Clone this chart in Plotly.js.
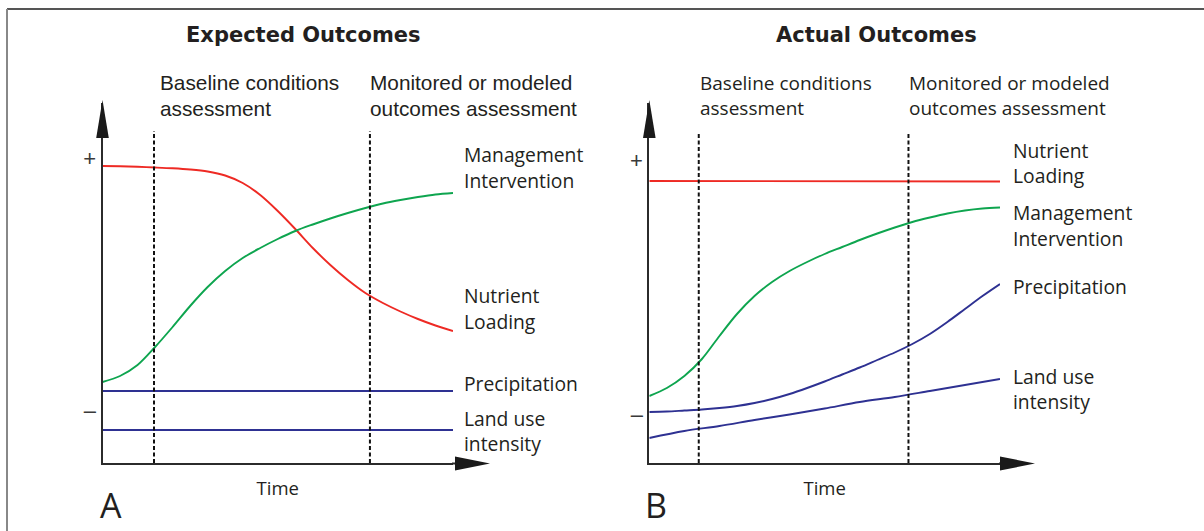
<!DOCTYPE html>
<html><head><meta charset="utf-8">
<script src="https://cdn.plot.ly/plotly-3.0.1.min.js"></script>
<style>html,body{margin:0;padding:0;background:#fff;}#chart{width:1204px;height:531px;}</style>
</head><body><div id="chart"></div>
<script>
// ---------------- data ----------------
const timeGrid = [0,0.5,1,1.5,2,2.5,3,3.5,4,4.5,5,5.5,6,6.5,7,7.5,8,8.5,9,9.5,10];
const timeEnds = [0,10];
const timeInt  = [0,1,2,3,4,5,6,7,8,9,10];

// Panel A: Expected outcomes
const nutrientA   = [29.7,29.67,29.62,29.55,29.47,29.35,29.15,28.75,28.0,26.8,25.2,23.4,21.5,19.8,18.3,17.0,16.0,15.15,14.4,13.75,13.2];
const managementA = [8.1,8.7,9.8,11.6,13.6,15.7,17.6,19.2,20.5,21.5,22.4,23.2,23.85,24.45,25.0,25.5,25.95,26.3,26.6,26.85,27.0];
const precipA     = [7.2,7.2];
const landUseA    = [3.3,3.3];
const assessTimesA = [1.47,7.63];

// Panel B: Actual outcomes
const nutrientB   = [28.2,28.15];
const managementB = [6.7,7.5,8.7,10.4,12.7,14.9,16.7,18.1,19.2,20.1,20.9,21.6,22.3,22.95,23.55,24.1,24.55,24.95,25.25,25.45,25.55];
const precipB     = [5.1,5.15,5.25,5.35,5.5,5.7,6.0,6.4,6.9,7.5,8.15,8.85,9.55,10.3,11.05,11.9,12.9,14.1,15.4,16.7,17.9];
const landUseB    = [2.5,3.2,3.7,4.3,4.85,5.45,6.1,6.6,7.2,7.8,8.4];
const assessTimesB = [1.41,7.39];

// tick labels
const yTickTextAB = ['+','\u2013'];
const yTickValsA = [30.5,5.3];
const yTickValsB = [30.3,4.9];
const assessLabel = ['Baseline conditions','assessment'];
const outcomeLabel = ['Monitored or modeled','outcomes assessment'];
const panelTitles = ['Expected Outcomes','Actual Outcomes'];
const panelLetters = ['A','B'];

// ---------------- styling ----------------
const W = 1204, H = 531;
const px = x => x / W;
const py = y => 1 - y / H;
const RED = '#ee2a24', GREEN = '#0ea54f', BLUE = '#2e3192', INK = '#231f20', AX = '#2b2b2b';
const MYR = 'Open Sans, Noto Sans, sans-serif';
const ARI = 'Liberation Sans, Arial, sans-serif';

function line(x, y, color, xa, ya) {
  return {type:'scatter', mode:'lines', x:x, y:y, xaxis:xa, yaxis:ya,
          line:{color:color, width:1.9, shape:'spline', smoothing:0.9}, hoverinfo:'skip', showlegend:false};
}

const traces = [
  line(timeGrid, nutrientA, RED, 'x', 'y'),
  line(timeGrid, managementA, GREEN, 'x', 'y'),
  line(timeEnds, precipA, BLUE, 'x', 'y'),
  line(timeEnds, landUseA, BLUE, 'x', 'y'),
  line(timeEnds, nutrientB, RED, 'x2', 'y2'),
  line(timeGrid, managementB, GREEN, 'x2', 'y2'),
  line(timeGrid, precipB, BLUE, 'x2', 'y2'),
  line(timeInt, landUseB, BLUE, 'x2', 'y2')
];

function xax(d0, d1, anchor) {
  return {domain:[px(d0), px(d1)], range:[0,10], anchor:anchor, showline:true, linecolor:AX, linewidth:2,
          showgrid:false, zeroline:false, showticklabels:false, ticks:'', fixedrange:true,
          title:{text:'Time', standoff:18, font:{family:MYR, size:18.5, color:INK}}};
}
function yax(vals, anchor) {
  return {domain:[py(463), py(103)], range:[0,36], anchor:anchor, showline:true, linecolor:AX, linewidth:2,
          showgrid:false, zeroline:false, tickvals:vals, ticktext:yTickTextAB, ticks:'',
          tickfont:{family:ARI, size:22, color:'#3a3a3a'}, fixedrange:true};
}

const shapes = [];
// border
shapes.push({type:'line', xref:'paper', yref:'paper', x0:px(7), y0:py(9), x1:1, y1:py(9), line:{color:'#555', width:2}});
shapes.push({type:'line', xref:'paper', yref:'paper', x0:px(7), y0:py(9), x1:px(7), y1:0, line:{color:'#888', width:2}});
// dashed assessment lines
assessTimesA.forEach(t => shapes.push({type:'line', xref:'x', yref:'y', x0:t, x1:t, y0:0, y1:33.2,
  line:{color:'#111', width:2, dash:'4px,2.5px'}}));
assessTimesB.forEach(t => shapes.push({type:'line', xref:'x2', yref:'y2', x0:t, x1:t, y0:0, y1:33.0,
  line:{color:'#111', width:2, dash:'4px,2.5px'}}));
// axis arrow heads
function tri(pts) {
  return {type:'path', xref:'paper', yref:'paper', fillcolor:'#1a1a1a', line:{width:0},
          path:'M' + pts.map(p => px(p[0]) + ',' + py(p[1])).join(' L') + ' Z'};
}
[[102.5,453,490],[649.3,1000,1035]].forEach(a => {
  const x0 = a[0], xe = a[1], tip = a[2];
  shapes.push({type:'line', xref:'paper', yref:'paper', x0:px(xe-1), x1:px(tip-20), y0:py(463.5), y1:py(463.5), line:{color:AX, width:2}});
  shapes.push(tri([[tip-35,456.5],[tip,463.5],[tip-35,470.5]]));
  shapes.push(tri([[x0-6.3,138],[x0,100],[x0+6.3,138]]));
});

const ann = [];
function txt(t, x, y, font, size, anchor, weight) {
  ann.push({text:t, xref:'paper', yref:'paper', x:px(x), y:py(y), xanchor:anchor||'left', yanchor:'middle',
    showarrow:false, font:{family:font, size:size, color:INK, weight:weight||400}});
}
// titles
txt(panelTitles[0], 303, 35, 'DejaVu Sans, sans-serif', 21, 'center', 700);
txt(panelTitles[1], 876, 35, 'DejaVu Sans, sans-serif', 21, 'center', 700);
// headers panel A (Arial-like)
const HA = 20.8;
txt(assessLabel[0], 158, 83, ARI, HA); txt(assessLabel[1], 158, 108, ARI, HA);
txt(outcomeLabel[0], 368, 83, ARI, HA); txt(outcomeLabel[1], 368, 108, ARI, HA);
// headers panel B
const HB = 19;
txt(assessLabel[0], 698, 83, MYR, HB); txt(assessLabel[1], 698, 108, MYR, HB);
txt(outcomeLabel[0], 907, 83, MYR, HB); txt(outcomeLabel[1], 907, 108, MYR, HB);
// series labels A
const LS = 19.3;
txt('Management', 462, 155, MYR, LS); txt('Intervention', 462, 180, MYR, LS);
txt('Nutrient', 462, 295, MYR, LS); txt('Loading', 462, 321, MYR, LS);
txt('Precipitation', 462, 383, MYR, LS);
txt('Land use', 462, 418, MYR, LS); txt('intensity', 462, 443, MYR, LS);
// series labels B
txt('Nutrient', 1011, 150, MYR, LS); txt('Loading', 1011, 175, MYR, LS);
txt('Management', 1011, 213, MYR, LS); txt('Intervention', 1011, 238, MYR, LS);
txt('Precipitation', 1011, 286, MYR, LS);
txt('Land use', 1011, 376, MYR, LS); txt('intensity', 1011, 401, MYR, LS);
// panel letters
txt(panelLetters[0], 111, 505, MYR, 34, 'center');
txt(panelLetters[1], 656, 505, MYR, 34, 'center');

const layout = {
  width:W, height:H, margin:{l:0, r:0, t:0, b:0}, paper_bgcolor:'#fff', plot_bgcolor:'rgba(0,0,0,0)',
  showlegend:false,
  xaxis:xax(102.5, 453, 'y'), yaxis:yax(yTickValsA, 'x'),
  xaxis2:xax(649.3, 1000, 'y2'), yaxis2:yax(yTickValsB, 'x2'),
  shapes:shapes, annotations:ann
};
Plotly.newPlot('chart', traces, layout, {staticPlot:true, displayModeBar:false});
</script></body></html>
